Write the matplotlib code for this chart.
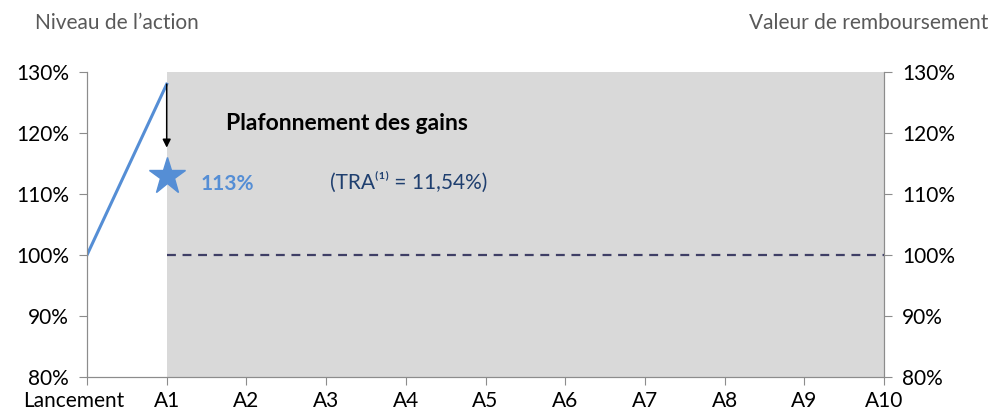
import matplotlib as mpl

mpl.use("Agg")

import matplotlib.pyplot as plt
from matplotlib.ticker import FuncFormatter
from matplotlib.transforms import ScaledTranslation

plt.rcParams["font.family"] = ["Lato", "DejaVu Sans"]

# data
x_labels = ["Lancement", "A1", "A2", "A3", "A4", "A5", "A6", "A7", "A8", "A9", "A10"]
action_x = [0, 1]
action_level = [100, 128]
cap_x = 1
cap_value = 113
capital_level = 100
y_ticks = [80, 90, 100, 110, 120, 130]

BLUE = "#558ED5"
NAVY = "#1F3F6F"
GRAY_TXT = "#595959"
AXIS = "#8C8C8C"
FS = 15

fig = plt.figure(figsize=(10, 4.19), dpi=100)
ax = fig.add_axes([0.087, 0.1002, 0.797, 0.728])
ax.set_xlim(0, len(x_labels) - 1)
ax.set_ylim(y_ticks[0], y_ticks[-1])

# shaded region after year 1
ax.axvspan(1, len(x_labels) - 1, color="#D9D9D9", zorder=0, lw=0)

ax.plot(action_x, action_level, color=BLUE, lw=2.2, zorder=3)
ax.plot([1, len(x_labels) - 1], [capital_level, capital_level], color="#3F3F66", lw=1.6, ls=(0, (4, 3)), zorder=3)
ax.plot([cap_x], [cap_value], marker="*", ms=28, color=BLUE, mec=BLUE, zorder=4)
ax.annotate("", xy=(cap_x, 117.6), xytext=(cap_x, action_level[-1]),
            arrowprops=dict(arrowstyle="-|>", color="black", lw=1.1, mutation_scale=12, shrinkA=0, shrinkB=0),
            zorder=5)

ax.text(1.74, 121.5, "Plafonnement des gains", fontsize=16.5, fontweight="bold", color="black", va="center")
ax.text(1.42, 111.6, f"{cap_value}%", fontsize=FS, fontweight="bold", color=BLUE, va="center")
ax.text(3.05, 112.0, "(TRA\u207d\u00b9\u207e = 11,54%)", fontsize=FS, color=NAVY, va="center")

pct = FuncFormatter(lambda v, _: f"{v:.0f}%")
ax.set_xticks(range(len(x_labels)))
ax.set_xticklabels(x_labels, fontsize=FS)
ax.set_yticks(y_ticks)
ax.yaxis.set_major_formatter(pct)
ax.tick_params(axis="y", labelsize=FS, length=6, color=AXIS, pad=7)
ax.tick_params(axis="x", length=6, color=AXIS, pad=4)
first = ax.get_xticklabels()[0]
first.set_transform(first.get_transform() + ScaledTranslation(-0.13, 0, fig.dpi_scale_trans))

ax2 = ax.twinx()
ax2.set_ylim(ax.get_ylim())
ax2.set_yticks(y_ticks)
ax2.yaxis.set_major_formatter(pct)
ax2.tick_params(axis="y", labelsize=FS, length=6, color=AXIS, pad=7)

for a in (ax, ax2):
    a.spines["top"].set_visible(False)
    for s in ("left", "right", "bottom"):
        a.spines[s].set_color(AXIS)

fig.text(0.035, 0.945, "Niveau de l\u2019action", fontsize=FS, color=GRAY_TXT, va="center", ha="left")
fig.text(0.988, 0.945, "Valeur de remboursement", fontsize=FS, color=GRAY_TXT, va="center", ha="right")

fig.savefig("out.png", dpi=100)
